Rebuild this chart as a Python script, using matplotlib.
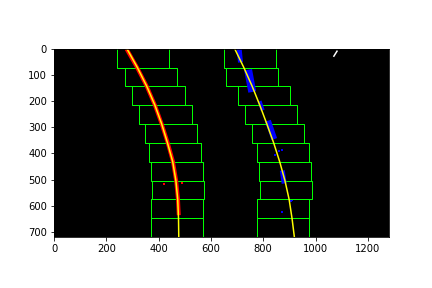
import matplotlib
matplotlib.use('Agg')
import matplotlib.pyplot as plt
import numpy as np

# warped binary frame size
img_h, img_w = 720, 1280
n_windows = 10
margin = 100

# sliding window centres, top window first
left_win_x = [340, 371, 400, 426, 448, 462, 470, 475, 470, 471]
right_win_x = [750, 758, 804, 830, 857, 876, 882, 888, 876, 876]

# fitted lane lines
fit_y = [0, 72, 144, 216, 288, 360, 432, 504, 576, 648, 720]
left_fit_x = [279, 319, 355, 386, 412, 434, 454, 466, 473, 476, 477]
right_fit_x = [691, 726, 758, 787, 814, 840, 863, 883, 899, 910, 919]

# left lane pixels (continuous line)
left_px_y = [0, 72, 144, 216, 288, 360, 432, 504, 576, 636]
left_px_x = [277, 318, 355, 386, 412, 435, 455, 467, 474, 477]
left_dot_x = [421, 490]
left_dot_y = [517, 514]

# right lane pixels (dashed line blobs)
right_blob_x0 = [708, 742, 786, 818, 873]
right_blob_y0 = [0, 80, 200, 275, 465]
right_blob_x1 = [713, 758, 798, 842, 880]
right_blob_y1 = [52, 165, 235, 345, 515]
blob_width = [5, 8, 4, 6, 5]
right_dot_x = [846, 860, 872, 906, 910, 872]
right_dot_y = [405, 392, 388, 582, 578, 625]

# stray bright pixels
stray_x = [1070, 1082]
stray_y = [28, 9]

fig = plt.figure(figsize=(6, 4), dpi=72)
ax = fig.add_subplot(111)
fig.subplots_adjust(bottom=0.1185, top=0.8885)

ax.imshow(np.zeros((img_h, img_w, 3)), extent=(0, img_w, img_h, 0))

win_h = img_h // n_windows
for i in range(n_windows):
    y_low = i * win_h
    y_high = y_low + win_h
    for cx in (left_win_x[i], right_win_x[i]):
        x_low, x_high = cx - margin, cx + margin
        xs = [x_low, x_low, x_high, x_high]
        ys = [y_low, y_high, y_high, y_low]
        if y_low > 0:
            # close the box; the top one sits on the frame edge
            xs.append(x_low)
            ys.append(y_low)
        ax.plot(xs, ys, color=(0, 1, 0), lw=1)

ax.plot(left_px_x, left_px_y, color='red', lw=4, solid_capstyle='butt')
ax.scatter(left_dot_x, left_dot_y, color='red', s=2, marker='s', lw=0)

for x0, y0, x1, y1, w in zip(right_blob_x0, right_blob_y0, right_blob_x1,
                             right_blob_y1, blob_width):
    ax.plot([x0, x1], [y0, y1], color='blue', lw=w, solid_capstyle='butt')
ax.scatter(right_dot_x, right_dot_y, color='blue', s=2, marker='s', lw=0)

ax.plot(stray_x, stray_y, color='white', lw=1.5)

ax.plot(left_fit_x, fit_y, color='yellow', lw=1.5)
ax.plot(right_fit_x, fit_y, color='yellow', lw=1.5)

ax.set_xlim(0, img_w)
ax.set_ylim(img_h, 0)

plt.savefig('out.png', dpi=72)
